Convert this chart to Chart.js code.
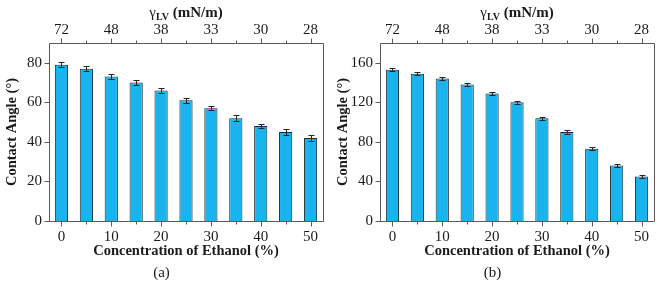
<!DOCTYPE html>
<html><head><meta charset="utf-8">
<script src="https://cdn.jsdelivr.net/npm/chart.js@4"></script>
<style>
body{margin:0;background:#fff;width:661px;height:286px;overflow:hidden;position:relative}
canvas{position:absolute;top:0}
</style></head><body>
<canvas id="ca" width="330" height="286" style="left:0"></canvas>
<canvas id="cb" width="330" height="286" style="left:331px"></canvas>
<script>
// ---- data ----
const concentrations = ['0','5','10','15','20','25','30','35','40','45','50'];
const surfaceTensionLabels = ['72','','48','','38','','33','','30','','28'];
const angleA = [79,77,73,70,66,61,57,52,48,45,42];
const errorA = [1.3,1.3,1.1,1.1,1.2,1.1,1.1,1.4,1.2,1.4,1.3];
const angleB = [153,149,144,138,129,120,104,90,73,56,45];
const errorB = [1.6,1.5,1.5,1.5,1.5,1.5,1.5,1.6,1.4,1.5,1.6];
const yMaxA = 90, yStepA = 10, yLabelStepA = 20;
const yMaxB = 180, yStepB = 20, yLabelStepB = 40;

Chart.defaults.font.family = '"Liberation Serif", "Times New Roman", serif';
Chart.defaults.color = '#1a1a1a';

const FRAME = '#5a5a5a';

const decorPlugin = {
  id: 'decor',
  afterDatasetsDraw(chart) {
    const {ctx, chartArea: a, scales} = chart;
    const ds = chart.data.datasets[0];
    const meta = chart.getDatasetMeta(0);
    ctx.save();
    // error bars
    ctx.strokeStyle = '#262626';
    ctx.lineWidth = 1;
    meta.data.forEach((bar, i) => {
      const v = ds.data[i], e = ds.errors[i];
      const x = Math.round(bar.x) + 0.5;
      const yT = Math.round(scales.y.getPixelForValue(v + e)) + 0.5;
      const yB = Math.round(scales.y.getPixelForValue(v - e)) + 0.5;
      ctx.beginPath();
      ctx.moveTo(x, yT); ctx.lineTo(x, yB);
      ctx.moveTo(x - 3, yT); ctx.lineTo(x + 3, yT);
      ctx.moveTo(x - 3, yB); ctx.lineTo(x + 3, yB);
      ctx.stroke();
    });
    // frame
    ctx.strokeStyle = FRAME;
    const L = Math.round(a.left) + 0.5, T = Math.round(a.top) + 0.5;
    const R = Math.round(a.right) + 0.5, B = Math.round(a.bottom) + 0.5;
    ctx.beginPath();
    ctx.rect(L, T, R - L, B - T);
    // x ticks (bottom + top), outward
    concentrations.forEach((c, i) => {
      const x = Math.round(scales.x.getPixelForValue(i)) + 0.5;
      const len = i % 2 === 0 ? 5 : 3;
      ctx.moveTo(x, B); ctx.lineTo(x, B + len);
      ctx.moveTo(x, T); ctx.lineTo(x, T - len);
    });
    // y ticks, outward
    const lblStep = chart.options.scales.y.ticks.labelStep;
    scales.y.ticks.forEach(t => {
      const y = Math.round(scales.y.getPixelForValue(t.value)) + 0.5;
      const len = t.value % lblStep === 0 ? 5 : 3;
      ctx.moveTo(L - len, y); ctx.lineTo(L, y);
    });
    ctx.stroke();
    // top axis title: γLV (mN/m)
    const cx = (a.left + a.right) / 2;
    const fG = '15px "Liberation Serif"';
    const fS = 'bold 10px "Liberation Serif"';
    const fU = 'bold 15px "Liberation Serif"';
    const parts = [['γ', fG, 0], ['LV', fS, 3], [' (mN/m)', fU, 0]];
    let w = 0;
    parts.forEach(p => { ctx.font = p[1]; p.push(ctx.measureText(p[0]).width); w += p[3]; });
    let x = cx - w / 2;
    ctx.fillStyle = '#1a1a1a';
    ctx.textBaseline = 'alphabetic';
    ctx.textAlign = 'left';
    parts.forEach(p => { ctx.font = p[1]; ctx.fillText(p[0], x, 17 + p[2]); x += p[3]; });
    ctx.restore();
  }
};

function makeChart(id, values, errors, yMax, yStep, labelStep, panel) {
  return new Chart(document.getElementById(id), {
    type: 'bar',
    data: {
      labels: concentrations,
      datasets: [{
        data: values,
        errors: errors,
        backgroundColor: '#19B4EE',
        borderColor: '#1d2a33',
        borderWidth: 1,
        barPercentage: 0.53,
        categoryPercentage: 1
      }]
    },
    options: {
      responsive: false,
      animation: false,
      layout: {padding: {left: 0, right: 7, top: 0, bottom: 0}},
      plugins: {
        legend: {display: false},
        tooltip: {enabled: false},
        title: {
          display: true, position: 'bottom', text: panel,
          font: {size: 15, weight: 'normal'}, color: '#1a1a1a',
          padding: {top: 0, bottom: 4}
        }
      },
      scales: {
        x: {
          type: 'category',
          position: 'bottom',
          grid: {display: false, drawTicks: false},
          border: {display: false},
          ticks: {
            autoSkip: false, maxRotation: 0, padding: 7,
            font: {size: 15},
            callback: (v, i) => (i % 2 === 0 ? concentrations[i] : '')
          },
          title: {
            display: true, text: 'Concentration of Ethanol (%)',
            font: {size: 14.5, weight: 'bold'}, padding: {top: 0, bottom: 4}
          },
          afterFit: s => { s.height = 43; }
        },
        x2: {
          type: 'category',
          position: 'top',
          labels: surfaceTensionLabels,
          grid: {display: false, drawTicks: false},
          border: {display: false},
          ticks: {autoSkip: false, maxRotation: 0, padding: 4, font: {size: 15}},
          afterFit: s => { s.height = 43; }
        },
        y: {
          min: 0, max: yMax,
          grid: {display: false, drawTicks: false},
          border: {display: false},
          ticks: {
            stepSize: yStep, labelStep: labelStep, padding: 7,
            font: {size: 15},
            callback: v => (v % labelStep === 0 ? String(v) : '')
          },
          title: {
            display: true, text: 'Contact Angle (°)',
            font: {size: 14.5, weight: 'bold'}, padding: {top: 4, bottom: 0}
          },
          afterFit: s => { s.width = 49; }
        }
      }
    },
    plugins: [decorPlugin]
  });
}

makeChart('ca', angleA, errorA, yMaxA, yStepA, yLabelStepA, '(a)');
makeChart('cb', angleB, errorB, yMaxB, yStepB, yLabelStepB, '(b)');
</script>
</body></html>
